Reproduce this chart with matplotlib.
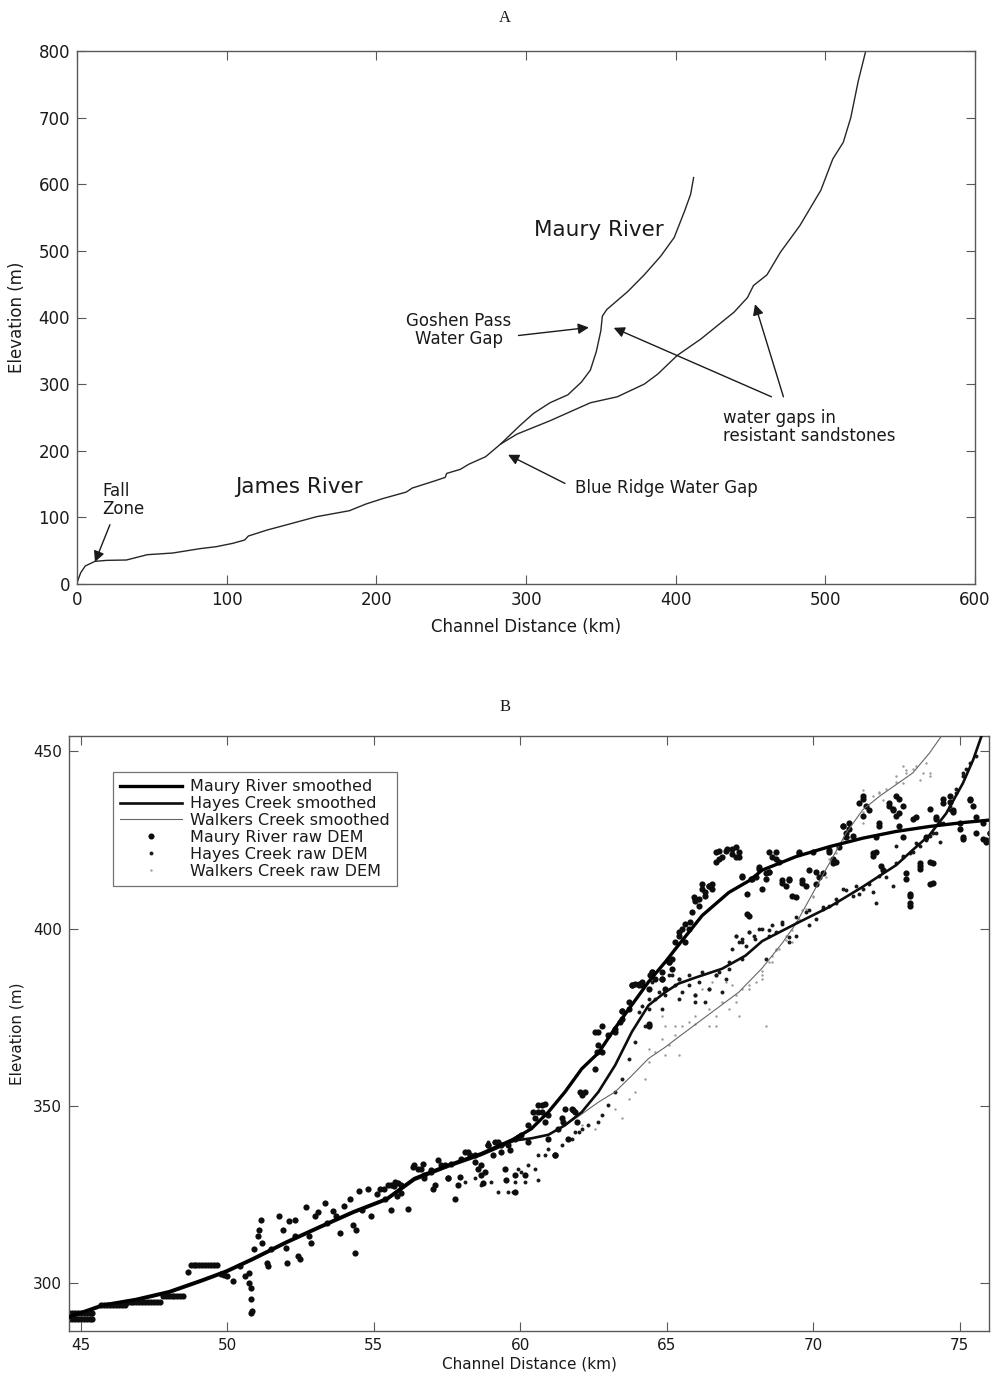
import matplotlib
matplotlib.use("Agg")
import matplotlib.pyplot as plt
from matplotlib.lines import Line2D

plt.rcParams['font.family'] = ['DejaVu Sans']

# ---------------- Panel A data ----------------
james_x = [0, 2.5, 5.5, 12, 20, 33, 47, 64, 82, 93, 104, 112, 114.5, 127, 142, 160, 182, 193,
           204, 220, 224, 238, 246, 247, 256, 262, 273, 283, 294, 316, 343, 361, 379, 388, 401,
           417, 439, 448, 452, 461, 470, 483, 497, 505, 512, 517, 522, 527]
james_y = [2, 17, 27, 34, 35.5, 36, 44, 46.5, 53, 56, 61, 66, 72, 81, 90, 101, 110, 120,
           128, 138, 144, 154, 160, 166, 172, 180, 191, 210, 225, 245, 272, 281, 300, 315, 343,
           368, 408, 430, 448, 464, 498, 538, 591, 638, 663, 700, 755, 800]
maury_a_x = [283, 296, 305, 316, 328, 337, 343, 347, 350, 351, 354, 368, 379, 390, 399, 406, 410, 412]
maury_a_y = [210, 238, 256, 272, 284, 303, 321, 349, 380, 402, 412, 439, 464, 492, 520, 560, 585, 610]

# ---------------- Panel B data ----------------
maury_s_x = [44.6, 45.74, 46.88, 48.02, 49.16, 49.97, 50.88, 52.02, 53.16, 54.3, 55.45, 56.39,
             57.53, 58.67, 59.81, 60.38, 60.96, 61.53, 62.1, 62.67, 63.24, 63.81, 64.38, 64.95,
             65.3, 66.21, 67.12, 67.81, 68.26, 69.41, 70.55, 71.69, 72.83, 73.97, 75.11, 76.14]
maury_s_y = [290.6, 293.9, 295.5, 297.7, 301, 303.5, 307, 311.7, 316, 320.2, 323.9, 329.6,
             333.3, 336.6, 340.8, 343.6, 348.3, 354, 360.5, 365, 372, 378.5, 385, 390.6,
             394.3, 403.7, 410.2, 413.5, 416.5, 420.3, 423.1, 425.5, 427.4, 428.8, 429.9, 430.7]

hayes_s_x = [44.6, 45.74, 46.88, 48.02, 49.16, 49.97, 50.88, 52.02, 53.16, 54.3, 55.45, 56.39,
             57.53, 58.67, 59.81, 60.38, 60.96, 61.53, 62.1, 62.67, 63.24, 63.81, 64.38, 64.95,
             65.4, 65.98, 66.89, 67.69, 68.26, 69.41, 70.55, 71.69, 72.83, 73.4, 73.97, 74.54,
             75.11, 75.46, 75.74]
hayes_s_y = [290.3, 293.6, 295.2, 297.4, 300.7, 303.2, 306.7, 311.4, 315.7, 319.9, 323.6, 329.2,
             332.9, 336.2, 340.3, 340.9, 341.9, 344.6, 348.3, 354, 361.5, 370.9, 378.4, 382.1,
             384.5, 386.2, 388.7, 392.4, 396.5, 401.4, 406.1, 411.8, 417.9, 422.2, 426.4, 432.5,
             441, 447.6, 454.2]

walkers_s_x = [44.6, 45.74, 46.88, 48.02, 49.16, 49.97, 50.88, 52.02, 53.16, 54.3, 55.45, 56.39,
               57.53, 58.67, 59.81, 60.38, 60.96, 61.53, 61.87, 62.67, 63.24, 63.81, 64.38, 64.95,
               65.41, 66.55, 67.46, 68.26, 68.95, 69.41, 69.98, 70.55, 71.12, 71.69, 72.26, 72.83,
               73.4, 73.97, 74.37]
walkers_s_y = [290.3, 293.6, 295.2, 297.4, 300.7, 303.2, 306.7, 311.4, 315.7, 319.9, 323.6, 329.2,
               332.9, 336.2, 340.3, 340.9, 341.9, 344.6, 346.4, 351.1, 354, 358.6, 363.4, 366.6,
               369.5, 376.5, 382.1, 388.9, 396, 401.4, 409.9, 418.4, 426.9, 433.5, 437.3, 440.6,
               443.9, 449.5, 454.2]

# Maury raw DEM: flat steps (quantised DEM)
maury_step_x = [44.6, 44.7, 44.8, 44.9, 45.0, 45.1, 45.2, 45.3, 45.4,
                44.6, 44.7, 44.8, 44.9, 45.0, 45.1, 45.2, 45.3, 45.4,
                45.7, 45.8, 45.9, 46.0, 46.1, 46.2, 46.3, 46.4, 46.5,
                46.6, 46.7, 46.8, 46.9, 47.0, 47.1, 47.2, 47.3, 47.4, 47.5, 47.6, 47.7,
                47.8, 47.9, 48.0, 48.1, 48.2, 48.3, 48.4, 48.5,
                48.75, 48.85, 48.95, 49.05, 49.15, 49.25, 49.35, 49.45, 49.55, 49.65]
maury_step_y = [291.6] * 9 + [289.9] * 9 + [294.0] * 9 + [294.9] * 12 + [296.6] * 8 + [305.2] * 10

# Maury raw DEM: scattered points
maury_raw_x = [48.65, 49.8, 49.9, 50.0, 50.19, 50.42, 50.6, 50.76, 50.76, 50.8, 50.8, 50.85, 50.8,
               50.9, 51.16, 51.1, 51.05, 51.2, 51.36, 51.4, 51.5, 51.76, 51.9, 52.0, 52.05, 52.1,
               52.3, 52.3, 52.4, 52.5, 52.7, 52.8, 52.85, 53.0, 53.1, 53.35, 53.4, 53.6, 53.7,
               53.85, 54.0, 54.2, 54.3, 54.36, 54.4, 54.5, 54.6, 54.8, 54.9, 55.1, 55.2, 55.4,
               55.6, 55.7, 55.8, 55.48, 55.71, 55.93, 56.39, 56.62, 56.73, 56.96, 57.08, 57.3,
               57.53, 57.88, 57.99, 58.22, 58.45, 58.67, 58.79, 58.9, 59.13, 59.36, 59.59, 59.82,
               60.04, 60.27, 60.5, 60.62, 60.73, 60.84, 60.96, 61.19, 61.41, 61.53, 61.76, 61.87,
               62.1, 62.21, 62.56, 62.67, 62.78, 63.01, 63.24, 63.47, 63.7, 63.81, 63.93, 64.15,
               64.38, 64.61, 64.84, 65.07, 65.18, 62.56, 62.61, 63.47, 64.04, 64.38, 64.5, 64.84,
               65.41, 65.64, 65.75, 65.98, 66.09, 66.21, 66.32, 66.44, 66.55, 66.67, 66.78, 67.01,
               67.24, 67.35, 67.46, 67.58, 67.81, 67.92, 68.15, 68.26, 68.49, 68.72, 68.83, 68.38,
               68.61, 68.95, 69.18, 69.41, 69.52, 69.63, 69.86, 70.09, 70.32, 70.55, 70.66, 70.89,
               71.0, 71.23, 71.12, 71.57, 71.69, 71.92, 72.03, 72.15, 72.26, 72.37, 72.6, 72.71,
               72.83, 72.94, 73.06, 73.17, 73.29, 73.29, 73.51, 73.63, 73.86, 73.97, 74.09, 74.2,
               74.43, 74.66, 74.77, 75.0, 75.11, 75.34, 75.57, 75.8, 75.91, 76.03]
maury_raw_y = [303.1, 302.6, 302.3, 302.0, 300.6, 304.8, 302.0, 303.0, 300.2, 298.8, 295.5, 292.3, 291.8,
               309.6, 318.0, 315.2, 313.3, 311.5, 305.8, 304.9, 309.6, 319.0, 315.2, 310.0, 305.8, 317.6,
               318.0, 313.3, 307.7, 306.8, 321.5, 313.3, 311.5, 319.0, 320.0, 322.8, 317.1, 320.4, 319.0,
               314.3, 321.8, 323.7, 316.6, 308.7, 315.2, 326.0, 320.8, 326.5, 319.0, 325.1, 326.5, 323.7,
               320.8, 327.4, 324.6, 327.7, 328.6, 327.7, 333.3, 332.4, 329.6, 331.5, 327.7, 333.3,
               329.6, 327.7, 335.2, 337.1, 336.1, 333.3, 331.5, 339.0, 339.9, 337.1, 339.0, 340.8,
               341.8, 344.6, 346.5, 348.3, 350.2, 350.7, 347.4, 336.1, 346.5, 349.3, 349.3, 348.3,
               353.0, 354.0, 360.5, 367.1, 365.2, 369.9, 370.9, 374.6, 377.4, 384.0, 384.5, 384.0,
               383.0, 385.9, 387.7, 390.5, 391.5, 370.9, 365.2, 376.9, 384.4, 372.7, 387.7, 385.9,
               399.0, 396.2, 399.9, 408.4, 406.5, 411.2, 409.3, 412.1, 411.2, 421.5, 419.6, 422.0,
               422.4, 420.1, 421.5, 414.9, 403.7, 414.0, 416.8, 411.2, 415.9, 421.5, 418.7, 415.6,
               420.3, 413.7, 413.7, 409.0, 421.2, 413.7, 416.5, 412.7, 415.6, 422.2, 418.4, 423.1,
               428.8, 429.7, 425.9, 435.4, 437.3, 433.5, 421.2, 425.9, 429.7, 416.5, 435.4, 433.5,
               437.3, 432.5, 425.9, 415.6, 409.9, 407.1, 431.6, 418.4, 425.9, 412.7, 418.4, 431.6,
               435.4, 437.3, 433.5, 429.7, 425.9, 436.3, 431.6, 429.7, 425.0, 426.9]

maury_more_x = [55.36, 55.59, 55.82, 55.93, 56.16, 56.33, 56.51, 56.68, 56.73, 56.96, 57.02, 57.19,
                57.42, 57.53, 57.65, 57.76, 57.93, 58.1, 58.28, 58.45, 58.56, 58.67, 58.73, 58.9,
                59.07, 59.25, 59.36, 59.47, 59.53, 59.65, 59.82, 59.82, 59.93, 60.16, 60.27, 60.44,
                60.62, 60.73, 60.84, 60.96, 61.19, 61.3, 61.47, 61.64, 61.81, 61.93, 62.04,
                62.67, 62.78, 63.24, 63.41, 63.47, 63.7, 63.81, 64.04, 64.15, 64.38, 64.44, 64.5,
                64.84, 64.95, 65.07, 65.18, 65.3, 65.41, 65.52, 65.64, 65.81, 65.87, 65.92, 65.98,
                66.09, 66.21, 66.32, 66.44, 66.55, 66.67, 66.78, 66.89, 67.07, 67.24, 67.35, 67.46,
                67.58, 67.75, 67.75, 67.86, 68.04, 68.15,
                68.49, 68.72, 68.49, 68.38, 68.95, 69.06, 69.18, 69.29, 69.52, 69.63, 69.75, 69.98,
                70.09, 70.21, 70.55, 70.66, 70.78, 71.0, 71.12, 71.23, 71.35, 71.69, 71.8, 71.69,
                72.03, 72.15, 72.26, 72.32, 72.6, 72.71, 72.83, 72.94, 73.06, 72.94, 73.17, 73.29,
                73.29, 73.4, 73.63, 73.63, 73.97, 73.97, 74.09, 74.2, 74.43, 74.66, 74.77, 75.0,
                75.11, 75.34, 75.46, 75.57, 75.8, 75.91, 76.03]
maury_more_y = [326.7, 327.7, 328.2, 325.4, 321.1, 332.8, 332.4, 333.8, 330.5, 331.9, 326.7, 334.7,
                333.3, 329.6, 333.8, 323.9, 330.0, 337.1, 336.1, 334.2, 332.4, 330.5, 328.2, 339.0,
                336.1, 339.9, 339.0, 332.4, 329.1, 337.5, 330.5, 325.8, 341.3, 330.5, 339.9, 348.3,
                350.2, 348.3, 345.5, 340.8, 336.1, 343.6, 345.5, 340.8, 348.8, 345.5, 354.0,
                370.8, 372.7, 371.8, 373.6, 376.9, 379.3, 384.0, 384.0, 384.9, 373.2, 386.8, 387.7,
                385.9, 383.0, 390.5, 388.7, 396.2, 398.0, 399.9, 401.3, 401.8, 404.6, 408.8, 407.9,
                408.4, 412.6, 410.2, 412.1, 412.6, 418.7, 422.0, 420.1, 422.4, 421.0, 422.9, 420.1,
                414.5, 409.8, 404.1, 414.0, 414.5, 417.3,
                421.5, 419.6, 415.9, 414.0, 413.0, 412.1, 414.0, 409.3, 421.5, 413.0, 412.1, 421.5,
                415.9, 414.5, 421.5, 419.6, 418.7, 429.0, 427.1, 428.1, 426.2, 436.5, 434.6, 431.8,
                420.6, 421.5, 429.0, 417.7, 434.6, 433.7, 431.8, 436.5, 434.6, 429.0, 414.0, 409.3,
                406.5, 430.9, 417.7, 416.8, 433.7, 418.7, 413.0, 430.9, 436.5, 435.6, 432.8, 428.1,
                425.2, 436.5, 434.6, 427.1, 425.2, 424.3, 427.1]

hayes_raw_x = [58.1, 58.45, 58.67, 59.02, 59.25, 59.59, 59.82, 60.04, 60.27, 60.62, 60.96, 61.64,
               61.87, 62.1, 62.33, 62.67, 62.78, 63.01, 63.24, 63.47, 63.7, 63.93, 64.27, 64.38,
               64.61, 64.95, 65.3, 65.18, 65.41, 65.75, 66.21, 66.44, 66.67, 66.89, 67.12, 67.35,
               67.58, 67.81, 68.03, 68.26, 68.49, 68.38, 65.98, 66.32, 67.58, 68.49, 68.95, 69.18,
               69.41, 69.86, 70.32, 70.78, 71.12, 71.57, 71.92, 72.15, 72.49, 72.83, 73.06, 73.29,
               73.51, 73.86, 74.09, 74.32, 74.66, 74.89, 75.11, 75.34, 75.57]
hayes_raw_y = [328.6, 329.6, 327.7, 328.6, 325.8, 325.8, 328.6, 331.5, 333.3, 336.1, 338.0, 340.8,
               342.7, 343.6, 344.6, 345.5, 347.4, 350.2, 354.0, 357.7, 363.3, 368.0, 372.7, 377.4,
               380.2, 381.2, 384.0, 386.8, 385.9, 386.8, 387.7, 383.0, 386.8, 382.1, 390.5, 398.0,
               396.2, 399.0, 397.1, 399.9, 398.0, 391.5, 381.2, 379.3, 391.5, 399.5, 401.4, 397.6,
               403.3, 405.2, 406.1, 407.1, 410.8, 409.9, 412.7, 407.1, 414.6, 418.4, 420.3, 421.2,
               424.1, 425.0, 426.9, 429.7, 433.5, 438.2, 443.9, 446.7, 448.6]

hayes_more_x = [58.9, 59.1, 59.76, 59.93, 60.16, 60.5, 60.62, 60.84, 61.41, 61.76, 61.99, 61.19,
                64.5, 64.72, 64.84, 65.07, 65.41, 65.52, 65.75, 65.98, 66.09, 66.44, 66.67, 66.78,
                67.01, 67.12, 67.35, 67.46, 67.58, 67.69, 67.81, 67.98, 68.15, 67.24, 65.41, 65.98,
                64.84, 64.38, 64.15, 64.04,
                68.61, 68.95, 69.41, 69.75, 70.09, 70.55, 70.78, 71.0, 71.35, 71.46, 71.69, 72.03,
                72.26, 72.37, 72.71, 72.83, 73.06, 73.4, 73.63, 73.86, 73.97, 74.2, 74.32, 74.43,
                74.66, 74.89, 75.11, 75.23, 69.18, 68.72, 69.86, 70.32]
hayes_more_y = [339.9, 339.9, 325.8, 332.4, 328.6, 332.4, 329.1, 336.1, 339.0, 340.8, 342.7, 336.1,
                384.9, 382.1, 387.7, 386.8, 385.9, 382.1, 384.0, 381.2, 384.9, 383.0, 386.8, 387.7,
                385.9, 388.7, 398.0, 396.2, 397.1, 395.2, 399.0, 398.0, 399.9, 394.3, 380.2, 379.3,
                377.4, 380.2, 378.3, 376.5,
                400.9, 401.8, 398.0, 404.6, 402.7, 406.5, 408.4, 411.2, 409.3, 412.1, 411.2, 410.2,
                414.9, 416.8, 412.1, 423.4, 420.6, 421.5, 423.4, 425.3, 426.2, 427.1, 424.3, 429.9,
                434.6, 439.3, 443.1, 444.9, 396.2, 399.0, 400.9, 405.6]

walkers_raw_x = [62.1, 62.56, 63.24, 63.47, 63.7, 63.93, 64.27, 64.38, 64.61, 64.95, 65.07, 65.3,
                 65.41, 64.38, 64.84, 65.3, 65.75, 65.98, 66.44, 66.89, 67.35, 67.81, 68.26, 68.38,
                 68.61, 68.83, 66.67, 67.46, 68.26, 68.72, 69.06, 69.29, 69.63, 69.98, 70.43, 70.78,
                 71.23, 71.69, 72.26, 72.83, 73.17, 73.51, 73.86, 73.06, 73.63, 73.97, 72.37, 71.69]
walkers_raw_y = [344.6, 343.6, 349.3, 346.5, 352.1, 354.0, 357.7, 362.4, 365.2, 364.3, 367.1, 369.9,
                 364.3, 366.2, 369.0, 372.7, 373.7, 375.5, 377.4, 379.3, 381.2, 383.0, 385.9, 372.7,
                 390.5, 394.3, 372.7, 375.5, 388.2, 393.9, 396.7, 399.5, 405.2, 409.0, 414.6, 421.2,
                 425.9, 429.7, 438.2, 442.9, 444.8, 445.8, 446.7, 441.0, 442.0, 443.9, 436.3, 439.2]

walkers_more_x = [64.84, 64.95, 65.52, 65.98, 66.44, 66.67, 67.12, 67.35, 67.58, 67.81, 68.04, 68.26,
                  67.01, 67.24, 66.55, 66.21, 72.26, 72.49, 72.83, 73.17, 73.4, 73.74, 73.97, 73.06,
                  72.03, 71.69, 71.23, 71.0, 70.55, 70.21, 69.98, 69.75, 69.41, 69.06, 68.72, 68.49,
                  69.29, 69.52, 68.61]
walkers_more_y = [375.5, 372.7, 372.7, 373.2, 372.7, 375.5, 377.4, 379.3, 383.0, 384.0, 384.9, 386.8,
                  384.9, 384.0, 384.9, 383.0, 438.4, 439.3, 441.2, 444.0, 444.9, 444.0, 443.1, 445.9,
                  437.4, 432.8, 429.0, 425.3, 419.6, 414.0, 409.3, 405.6, 401.8, 398.0, 394.3, 390.5,
                  396.2, 402.7, 392.4]

a_xticks = [0, 100, 200, 300, 400, 500, 600]
a_yticks = [0, 100, 200, 300, 400, 500, 600, 700, 800]
b_xticks = [45, 50, 55, 60, 65, 70, 75]
b_yticks = [300, 350, 400, 450]

# ---------------- Figure ----------------
W, H = 994, 1376
fig = plt.figure(figsize=(W / 100, H / 100), dpi=100)
spine_c = '0.35'
line_c = '0.15'


def frame(ax, fs):
    for s in ax.spines.values():
        s.set_color(spine_c)
        s.set_linewidth(1.0)
    ax.tick_params(direction='in', top=True, right=True, length=6.5, width=0.8,
                   color=spine_c, labelsize=fs, pad=5, labelcolor='0.1')


# Panel A
axA = fig.add_axes([77 / W, 1 - 584 / H, 898 / W, 533 / H])
axA.plot(james_x, james_y, color=line_c, lw=1.0)
axA.plot(maury_a_x, maury_a_y, color=line_c, lw=1.0)
axA.set_xlim(0, 600)
axA.set_ylim(0, 800)
axA.set_xticks(a_xticks)
axA.set_yticks(a_yticks)
frame(axA, 12)
axA.set_xlabel('Channel Distance (km)', fontsize=12, color='0.1')
axA.set_ylabel('Elevation (m)', fontsize=12, color='0.1')
axA.xaxis.set_label_coords(0.5, -0.063)
axA.yaxis.set_label_coords(-0.057, 0.5)

ann_kw = dict(fontsize=12, color='0.1')
arrow = dict(arrowstyle='-|>', color='0.1', lw=1.0, mutation_scale=16, shrinkA=0, shrinkB=0)
axA.text(17, 126, 'Fall\nZone', ha='left', va='center', linespacing=1.0, **ann_kw)
axA.annotate('', xy=(12, 33), xytext=(22, 89), arrowprops=arrow)
axA.text(148, 145, 'James River', ha='center', va='center', fontsize=15.5, color='0.1')
axA.text(349, 531, 'Maury River', ha='center', va='center', fontsize=15.5, color='0.1')
axA.text(255, 381, 'Goshen Pass\nWater Gap', ha='center', va='center', linespacing=1.0, **ann_kw)
axA.annotate('', xy=(342, 385), xytext=(295, 373), arrowprops=arrow)
axA.text(431.6, 235, 'water gaps in\nresistant sandstones', ha='left', va='center',
         linespacing=1.0, **ann_kw)
axA.annotate('', xy=(358.6, 384.5), xytext=(464, 281), arrowprops=arrow)
axA.annotate('', xy=(453, 420), xytext=(472, 281), arrowprops=arrow)
axA.text(333, 144.5, 'Blue Ridge Water Gap', ha='left', va='center', **ann_kw)
axA.annotate('', xy=(288, 194), xytext=(326, 151), arrowprops=arrow)

# Panel B
axB = fig.add_axes([69 / W, 1 - 1331 / H, 920 / W, 595 / H])
axB.scatter(walkers_raw_x + walkers_more_x, walkers_raw_y + walkers_more_y,
            s=3, color='0.6', linewidths=0, zorder=2)
axB.scatter(hayes_raw_x + hayes_more_x, hayes_raw_y + hayes_more_y,
            s=8, color='0.1', linewidths=0, zorder=2)
axB.scatter(maury_step_x, maury_step_y, s=20, color='0.05', linewidths=0, zorder=2)
axB.scatter(maury_raw_x + maury_more_x, maury_raw_y + maury_more_y,
            s=20, color='0.05', linewidths=0, zorder=2)
axB.plot(walkers_s_x, walkers_s_y, color='0.4', lw=0.8, zorder=3)
axB.plot(hayes_s_x, hayes_s_y, color='0.05', lw=1.9, zorder=3)
axB.plot(maury_s_x, maury_s_y, color='0.0', lw=2.4, zorder=4)
axB.set_xlim(44.6, 76.0)
axB.set_ylim(286.6, 454.3)
axB.set_xticks(b_xticks)
axB.set_yticks(b_yticks)
frame(axB, 11)
axB.set_xlabel('Channel Distance (km)', fontsize=11, color='0.1')
axB.set_ylabel('Elevation (m)', fontsize=11, color='0.1')
axB.xaxis.set_label_coords(0.5, -0.043)
axB.yaxis.set_label_coords(-0.048, 0.5)

handles = [
    Line2D([], [], color='0.0', lw=2.4),
    Line2D([], [], color='0.05', lw=1.9),
    Line2D([], [], color='0.4', lw=0.8),
    Line2D([], [], color='0.05', ls='none', marker='o', markersize=4.4, markeredgewidth=0),
    Line2D([], [], color='0.1', ls='none', marker='o', markersize=2.8, markeredgewidth=0),
    Line2D([], [], color='0.6', ls='none', marker='o', markersize=1.7, markeredgewidth=0),
]
labels = ['Maury River smoothed', 'Hayes Creek smoothed', 'Walkers Creek smoothed',
          'Maury River raw DEM', 'Hayes Creek raw DEM', 'Walkers Creek raw DEM']
leg = axB.legend(handles, labels, loc='upper left', bbox_to_anchor=(0.0478, 0.9395),
                 borderaxespad=0, fontsize=11.5, frameon=True, fancybox=False,
                 edgecolor='0.45', framealpha=1, borderpad=0.45, labelspacing=0.12,
                 handlelength=3.9, handletextpad=0.5, numpoints=1)
leg.get_frame().set_linewidth(0.9)
for t in leg.get_texts():
    t.set_color('0.1')

fig.text(505 / W, 1 - 18 / H, 'A', ha='center', va='center', fontsize=12,
         family=['Liberation Serif', 'DejaVu Serif'], color='0.1')
fig.text(505 / W, 1 - 707 / H, 'B', ha='center', va='center', fontsize=12,
         family=['Liberation Serif', 'DejaVu Serif'], color='0.1')

fig.savefig('out.png', dpi=100, facecolor='white')
